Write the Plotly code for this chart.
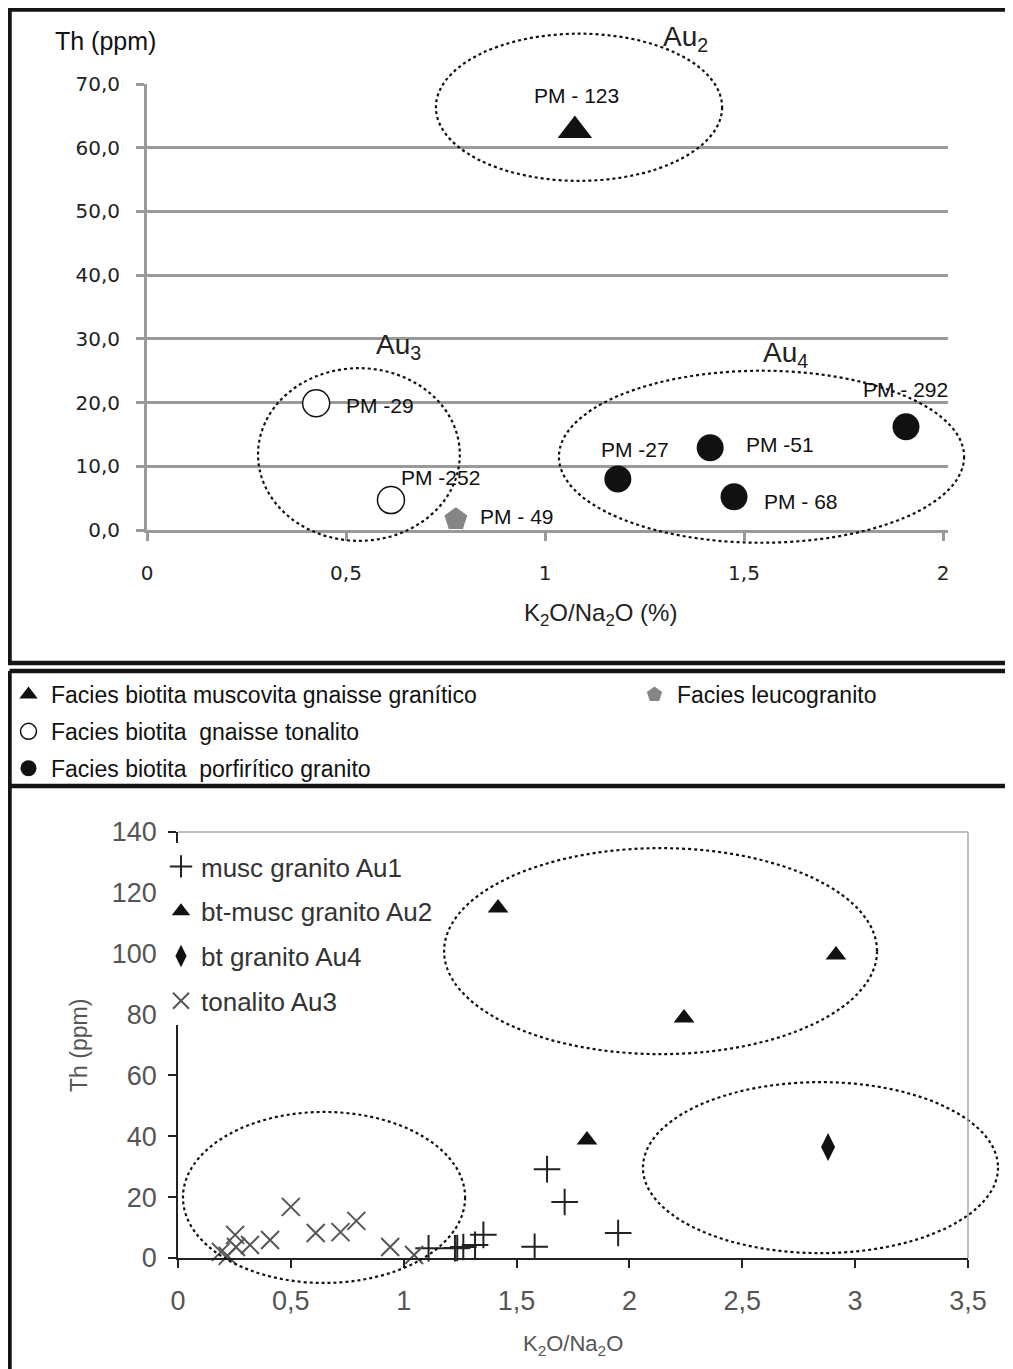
import plotly.graph_objects as go

# page offset (browser body margin) and figure size
OX, OY = 8, 8
W, H = 1005, 1361


def px(x):
    return (x - OX) / W


def py(y):
    return 1 - (y - OY) / H


# ---------------- data: top chart ----------------
tri_x = [1.075]
tri_y = [62.7]
tri_lbl = ["PM - 123"]

open_x = [0.425, 0.613]
open_y = [19.9, 4.7]
open_lbl = ["PM -29", "PM -252"]

fill_x = [1.183, 1.415, 1.475, 1.907]
fill_y = [8.0, 12.9, 5.2, 16.2]
fill_lbl = ["PM -27", "PM -51", "PM - 68", "PM - 292"]

pent_x = [0.776]
pent_y = [1.7]
pent_lbl = ["PM - 49"]

top_xticks = [0, 0.5, 1, 1.5, 2]
top_xtext = ["0", "0,5", "1", "1,5", "2"]
top_yticks = [0, 10, 20, 30, 40, 50, 60, 70]
top_ytext = ["0,0", "10,0", "20,0", "30,0", "40,0", "50,0", "60,0", "70,0"]

# ---------------- data: bottom chart ----------------
au1_x = [1.11, 1.227, 1.237, 1.264, 1.316, 1.353, 1.58, 1.635, 1.713, 1.95]
au1_y = [3.2, 3.2, 3.3, 3.6, 4.3, 7.6, 3.7, 29.2, 18.4, 8.2]
au2_x = [1.418, 2.915, 2.242, 1.812]
au2_y = [115.0, 99.6, 78.9, 38.8]
au4_x = [2.88]
au4_y = [36.5]
au3_x = [0.19, 0.22, 0.257, 0.253, 0.319, 0.408, 0.50, 0.61, 0.72, 0.79, 0.94, 1.046]
au3_y = [2.0, 0.7, 3.6, 7.6, 4.3, 5.9, 16.8, 8.2, 8.5, 12.2, 3.6, 1.0]

bot_xticks = [0, 0.5, 1, 1.5, 2, 2.5, 3, 3.5]
bot_xtext = ["0", "0,5", "1", "1,5", "2", "2,5", "3", "3,5"]
bot_yticks = [0, 20, 40, 60, 80, 100, 120, 140]
bot_ytext = ["0", "20", "40", "60", "80", "100", "120", "140"]

# group ellipses (data coords: x0, x1, y0, y1)
top_ellipses = [(0.726, 1.445, 54.8, 77.9), (0.279, 0.786, -1.7, 25.4), (1.035, 2.053, -2.0, 25.0)]
bot_ellipses = [(1.179, 3.097, 67.0, 134.7), (0.022, 1.272, -8.2, 48.0), (2.06, 3.633, 1.6, 57.8)]

# ---------------- geometry / style ----------------
TOP_XDOM = [px(147), px(948)]
TOP_XR = [0, 801 / 398]
TOP_YDOM = [py(530), py(84)]
TOP_YR = [0, 70]
BOT_XDOM = [px(178), px(968)]
BOT_XR = [0, 3.5]
BOT_YDOM = [py(1258), py(832)]
BOT_YR = [0, 140]


def d2p(v, dom, rng):
    return dom[0] + (v - rng[0]) / (rng[1] - rng[0]) * (dom[1] - dom[0])


FONT = "Liberation Sans, Arial, sans-serif"
GRID = "#9a9a9a"

# label offsets (xshift, yshift, xanchor)
LBL_STYLE = {
    "PM - 123": (2, 35, "center"),
    "PM -29": (28, -2, "left"),
    "PM -252": (50, 23, "center"),
    "PM - 49": (22, 3, "left"),
    "PM -27": (17, 30, "center"),
    "PM -51": (34, 3, "left"),
    "PM - 68": (28, -5, "left"),
    "PM - 292": (0, 37, "center"),
}

fig = go.Figure()

# top chart traces
fig.add_trace(go.Scatter(
    x=tri_x, y=tri_y, mode="markers", xaxis="x", yaxis="y", cliponaxis=False,
    name="Facies biotita muscovita gnaisse granítico", legend="legend", legendgroup="g1",
    marker=dict(symbol="triangle-up", size=30, color="#111")))
fig.add_trace(go.Scatter(
    x=open_x, y=open_y, mode="markers", xaxis="x", yaxis="y", cliponaxis=False,
    name="Facies biotita\u00a0 gnaisse tonalito", legend="legend", legendgroup="g2",
    marker=dict(symbol="circle", size=27, color="white", line=dict(color="#111", width=1.5))))
fig.add_trace(go.Scatter(
    x=fill_x, y=fill_y, mode="markers", xaxis="x", yaxis="y", cliponaxis=False,
    name="Facies biotita\u00a0 porfirítico granito", legend="legend", legendgroup="g3",
    marker=dict(symbol="circle", size=27, color="#111")))
fig.add_trace(go.Scatter(
    x=pent_x, y=pent_y, mode="markers", xaxis="x", yaxis="y", cliponaxis=False,
    name="Facies leucogranito", legend="legend2",
    marker=dict(symbol="pentagon", size=24, color="#858585")))

# bottom chart traces
fig.add_trace(go.Scatter(
    x=au1_x, y=au1_y, mode="markers", xaxis="x2", yaxis="y2", cliponaxis=False,
    name="musc granito Au1", legend="legend3", legendgroup="b1",
    marker=dict(symbol="cross-thin", size=19, color="#222", line=dict(color="#222", width=2))))
fig.add_trace(go.Scatter(
    x=au2_x, y=au2_y, mode="markers", xaxis="x2", yaxis="y2", cliponaxis=False,
    name="bt-musc granito Au2", legend="legend3", legendgroup="b2",
    marker=dict(symbol="triangle-up", size=18, color="#111")))
fig.add_trace(go.Scatter(
    x=au4_x, y=au4_y, mode="markers", xaxis="x2", yaxis="y2", cliponaxis=False,
    name="bt granito Au4", legend="legend3", legendgroup="b3",
    marker=dict(symbol="diamond-tall", size=20, color="#111")))
fig.add_trace(go.Scatter(
    x=au3_x, y=au3_y, mode="markers", xaxis="x2", yaxis="y2", cliponaxis=False,
    name="tonalito Au3", legend="legend3", legendgroup="b4",
    marker=dict(symbol="x-thin", size=18, color="#555", line=dict(color="#555", width=2))))

annotations = []
for xs, ys, ls in [(tri_x, tri_y, tri_lbl), (open_x, open_y, open_lbl),
                   (fill_x, fill_y, fill_lbl), (pent_x, pent_y, pent_lbl)]:
    for x, y, t in zip(xs, ys, ls):
        dx, dy, anc = LBL_STYLE[t]
        annotations.append(dict(x=x, y=y, xref="x", yref="y", text=t, showarrow=False,
                                xshift=dx, yshift=dy, xanchor=anc, yanchor="middle",
                                font=dict(family=FONT, size=21, color="#111")))

# paper annotations (titles, group names)
annotations += [
    dict(x=px(105), y=py(41), xref="paper", yref="paper", text="Th (ppm)", showarrow=False,
         xanchor="center", yanchor="middle", font=dict(family=FONT, size=25, color="#111")),
    dict(x=px(600), y=py(614), xref="paper", yref="paper", text="K<sub>2</sub>O/Na<sub>2</sub>O (%)",
         showarrow=False, xanchor="center", yanchor="middle", font=dict(family=FONT, size=24, color="#222")),
    dict(x=px(685), y=py(38), xref="paper", yref="paper", text="Au<sub>2</sub>", showarrow=False,
         xanchor="center", yanchor="middle", font=dict(family=FONT, size=28, color="#222")),
    dict(x=px(398), y=py(346), xref="paper", yref="paper", text="Au<sub>3</sub>", showarrow=False,
         xanchor="center", yanchor="middle", font=dict(family=FONT, size=28, color="#222")),
    dict(x=px(785), y=py(354), xref="paper", yref="paper", text="Au<sub>4</sub>", showarrow=False,
         xanchor="center", yanchor="middle", font=dict(family=FONT, size=28, color="#222")),
    dict(x=px(573), y=py(1345), xref="paper", yref="paper", text="K<sub>2</sub>O/Na<sub>2</sub>O",
         showarrow=False, xanchor="center", yanchor="middle", font=dict(family=FONT, size=22, color="#555")),
    dict(x=px(79), y=py(1046), xref="paper", yref="paper", text="Th (ppm)", textangle=-90,
         showarrow=False, xanchor="center", yanchor="middle", font=dict(family=FONT, size=23, color="#555")),
]

shapes = []
for (x0, x1, y0, y1) in top_ellipses:
    shapes.append(dict(type="circle", xref="paper", yref="paper",
                       x0=d2p(x0, TOP_XDOM, TOP_XR), x1=d2p(x1, TOP_XDOM, TOP_XR),
                       y0=d2p(y0, TOP_YDOM, TOP_YR), y1=d2p(y1, TOP_YDOM, TOP_YR),
                       line=dict(color="#111", width=2.2, dash="dot")))
for (x0, x1, y0, y1) in bot_ellipses:
    shapes.append(dict(type="circle", xref="paper", yref="paper",
                       x0=d2p(x0, BOT_XDOM, BOT_XR), x1=d2p(x1, BOT_XDOM, BOT_XR),
                       y0=d2p(y0, BOT_YDOM, BOT_YR), y1=d2p(y1, BOT_YDOM, BOT_YR),
                       line=dict(color="#111", width=2.2, dash="dot")))

# bottom plot area: gray top and right border
shapes += [
    dict(type="line", xref="x2 domain", yref="y2 domain", x0=0, x1=1, y0=1, y1=1,
         line=dict(color="#aaaaaa", width=1.5)),
    dict(type="line", xref="x2 domain", yref="y2 domain", x0=1, x1=1, y0=0, y1=1,
         line=dict(color="#aaaaaa", width=1.5)),
]

# panel frames
FR = dict(color="#141414", width=4.5)
shapes += [
    dict(type="rect", xref="paper", yref="paper", x0=px(9.5), x1=px(1010), y0=py(663), y1=py(9.5), line=FR),
    dict(type="line", xref="paper", yref="paper", x0=px(9.5), x1=1.0, y0=py(671), y1=py(671), line=FR),
    dict(type="line", xref="paper", yref="paper", x0=px(9.5), x1=1.0, y0=py(786), y1=py(786), line=FR),
    dict(type="line", xref="paper", yref="paper", x0=px(9.5), x1=px(9.5), y0=py(671), y1=0, line=FR),
]

fig.update_layout(
    width=W, height=H, margin=dict(l=0, r=0, t=0, b=0, pad=0, autoexpand=False),
    paper_bgcolor="white", plot_bgcolor="white",
    font=dict(family=FONT, color="#222"),
    xaxis=dict(domain=TOP_XDOM, range=TOP_XR, anchor="y", showgrid=False, zeroline=False,
               showline=True, linecolor=GRID, linewidth=3,
               ticks="outside", ticklen=8, tickwidth=3, tickcolor=GRID,
               tickvals=top_xticks, ticktext=top_xtext, ticklabelstandoff=15,
               tickfont=dict(family="DejaVu Sans", size=20, color="#222")),
    yaxis=dict(domain=TOP_YDOM, range=TOP_YR, anchor="x", showgrid=True, gridcolor=GRID, gridwidth=3,
               zeroline=False, showline=True, linecolor=GRID, linewidth=3,
               ticks="outside", ticklen=8, tickwidth=3, tickcolor=GRID,
               tickvals=top_yticks, ticktext=top_ytext, ticklabelstandoff=12,
               tickfont=dict(family="DejaVu Sans", size=20, color="#222")),
    xaxis2=dict(domain=BOT_XDOM, range=BOT_XR, anchor="y2", showgrid=False, zeroline=False,
                showline=True, linecolor="#222", linewidth=2,
                ticks="outside", ticklen=8, tickwidth=1.5, tickcolor="#222",
                tickvals=bot_xticks, ticktext=bot_xtext, ticklabelstandoff=10,
                tickfont=dict(family=FONT, size=27, color="#555")),
    yaxis2=dict(domain=BOT_YDOM, range=BOT_YR, anchor="x2", showgrid=False, zeroline=False,
                showline=True, linecolor="#222", linewidth=1.5,
                ticks="outside", ticklen=8, tickwidth=1.5, tickcolor="#222",
                tickvals=bot_yticks, ticktext=bot_ytext, ticklabelstandoff=6,
                tickfont=dict(family=FONT, size=27, color="#555")),
    legend=dict(x=px(6), y=py(673), xanchor="left", yanchor="top", bgcolor="rgba(0,0,0,0)",
                font=dict(family=FONT, size=23, color="#111"), tracegroupgap=4,
                traceorder="grouped", itemwidth=35),
    legend2=dict(x=px(632), y=py(673), xanchor="left", yanchor="top", bgcolor="rgba(0,0,0,0)",
                 font=dict(family=FONT, size=23, color="#111"), itemwidth=35),
    legend3=dict(x=px(161), y=py(843), xanchor="left", yanchor="top", bgcolor="white",
                 font=dict(family=FONT, size=26, color="#333"), tracegroupgap=8,
                 traceorder="grouped"),
    annotations=annotations, shapes=shapes, showlegend=True,
)

fig.write_html("out.html")
